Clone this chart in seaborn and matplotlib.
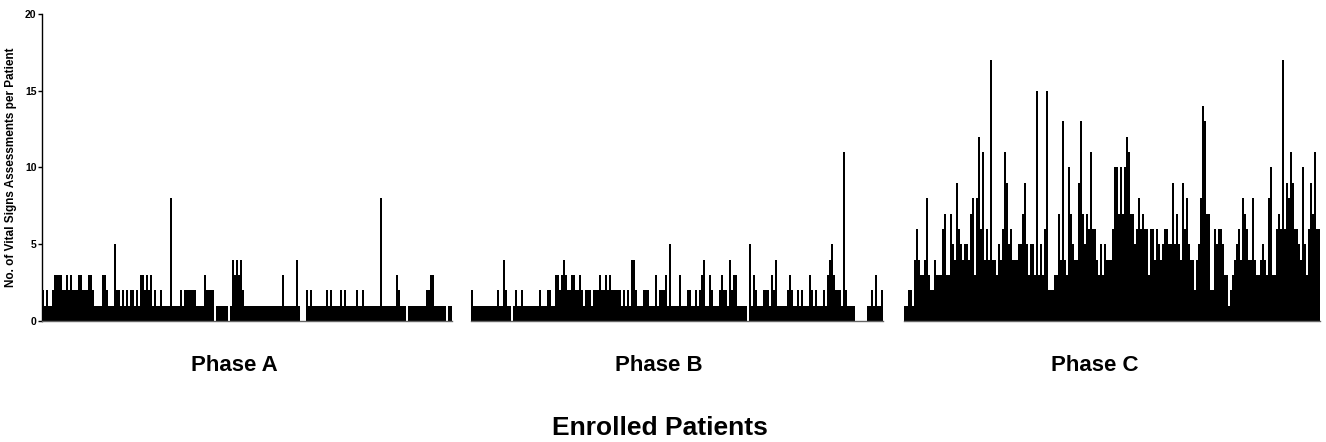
import numpy as np
import pandas as pd
import matplotlib.pyplot as plt
import seaborn as sns

# Vital signs assessments per enrolled patient (one bar per patient)
phase_a = [
    2, 1, 2, 1, 1, 2, 3, 3, 3, 3,
    2, 2, 3, 2, 3, 2, 2, 2, 3, 3,
    2, 2, 2, 3, 3, 2, 1, 1, 1, 1,
    3, 3, 2, 1, 1, 1, 5, 2, 2, 1,
    2, 1, 2, 1, 2, 2, 1, 2, 1, 3,
    3, 2, 3, 2, 3, 1, 2, 1, 1, 2,
    1, 1, 1, 1, 8, 1, 1, 1, 1, 2,
    1, 2, 2, 2, 2, 2, 2, 1, 1, 1,
    1, 3, 2, 2, 2, 2, 0, 1, 1, 1,
    1, 1, 1, 0, 1, 4, 3, 4, 3, 4,
    2, 1, 1, 1, 1, 1, 1, 1, 1, 1,
    1, 1, 1, 1, 1, 1, 1, 1, 1, 1,
    3, 1, 1, 1, 1, 1, 1, 4, 1, 0,
    0, 0, 2, 1, 2, 1, 1, 1, 1, 1,
    1, 1, 2, 1, 2, 1, 1, 1, 1, 2,
    1, 2, 1, 1, 1, 1, 1, 2, 1, 1,
    2, 1, 1, 1, 1, 1, 1, 1, 1, 8,
    1, 1, 1, 1, 1, 1, 1, 3, 2, 1,
    1, 1, 0, 1, 1, 1, 1, 1, 1, 1,
    1, 1, 2, 2, 3, 3, 1, 1, 1, 1,
    1, 1, 0, 1, 1,
]

phase_b = [
    2, 1, 1, 1, 1, 1, 1, 1, 1, 1,
    1, 1, 1, 2, 1, 1, 4, 2, 1, 1,
    0, 1, 2, 1, 1, 2, 1, 1, 1, 1,
    1, 1, 1, 1, 2, 1, 1, 1, 2, 2,
    1, 1, 3, 3, 2, 3, 4, 3, 2, 2,
    3, 3, 2, 2, 3, 2, 1, 2, 2, 2,
    1, 2, 2, 2, 3, 2, 2, 3, 2, 3,
    2, 2, 2, 2, 2, 1, 2, 1, 2, 1,
    4, 4, 2, 1, 1, 1, 2, 2, 2, 1,
    1, 1, 3, 1, 2, 2, 2, 3, 1, 5,
    1, 1, 1, 1, 3, 1, 1, 1, 2, 2,
    1, 1, 2, 1, 2, 3, 4, 1, 1, 3,
    2, 1, 1, 1, 2, 3, 2, 2, 1, 4,
    2, 3, 3, 1, 1, 1, 1, 1, 0, 5,
    1, 3, 2, 1, 1, 1, 2, 2, 2, 1,
    3, 2, 4, 1, 1, 1, 1, 1, 2, 3,
    2, 1, 1, 2, 1, 2, 1, 1, 1, 3,
    2, 1, 2, 1, 1, 1, 2, 1, 3, 4,
    5, 3, 2, 2, 2, 1, 11, 2, 1, 1,
    1, 1, 0, 0, 0, 0, 0, 0, 1, 1,
    2, 1, 3, 1, 1, 2,
]

phase_c = [
    1, 1, 2, 2, 1, 4, 6, 4, 3, 3,
    4, 8, 3, 2, 2, 4, 3, 3, 3, 6,
    7, 3, 3, 7, 5, 4, 9, 6, 5, 4,
    5, 5, 4, 7, 8, 3, 8, 12, 6, 11,
    4, 6, 4, 17, 4, 4, 3, 5, 4, 6,
    11, 9, 5, 6, 4, 4, 4, 5, 5, 7,
    9, 5, 3, 5, 5, 3, 15, 3, 5, 3,
    6, 15, 2, 2, 2, 3, 3, 7, 4, 13,
    4, 3, 10, 7, 5, 4, 4, 9, 13, 7,
    5, 7, 6, 11, 6, 6, 4, 3, 5, 3,
    5, 4, 4, 4, 6, 10, 10, 7, 10, 7,
    10, 12, 11, 7, 7, 5, 6, 8, 6, 7,
    6, 6, 3, 6, 6, 4, 6, 5, 4, 5,
    6, 6, 5, 5, 9, 5, 7, 5, 4, 9,
    6, 8, 5, 4, 4, 2, 4, 5, 8, 14,
    13, 7, 7, 2, 2, 6, 5, 6, 6, 5,
    3, 3, 1, 2, 3, 4, 5, 6, 4, 8,
    7, 6, 4, 4, 8, 4, 3, 3, 4, 5,
    4, 3, 8, 10, 3, 3, 6, 7, 6, 17,
    6, 9, 8, 11, 9, 6, 6, 5, 4, 10,
    5, 3, 6, 9, 7, 11, 6, 6,
]

phase_names = ['Phase A', 'Phase B', 'Phase C']
y_ticks = [0, 5, 10, 15, 20]

sns.set_style('ticks')
plt.rcParams['font.family'] = ['Liberation Sans', 'DejaVu Sans']
plt.rcParams['text.color'] = 'black'
plt.rcParams['axes.labelcolor'] = 'black'
plt.rcParams['ytick.color'] = 'black'

fig = plt.figure(figsize=(13.26, 4.42), dpi=100)

panel_boxes = [
    [0.0317, 0.2738, 0.3092, 0.6946],
    [0.3552, 0.2738, 0.3107, 0.6946],
    [0.6817, 0.2738, 0.3137, 0.6946],
]
label_x = [0.1765, 0.4970, 0.8258]

for i, (vals, name) in enumerate(zip([phase_a, phase_b, phase_c], phase_names)):
    ax = fig.add_axes(panel_boxes[i])
    df = pd.DataFrame({'patient': np.arange(len(vals)), 'count': vals})
    sns.barplot(data=df, x='patient', y='count', color='black', saturation=1,
                width=0.9, linewidth=0, ax=ax)
    ax.set_xlim(-0.5, len(vals) - 0.5)
    ax.set_ylim(0, 20)
    ax.set_xticks([])
    ax.set_xlabel('')
    ax.set_ylabel('')
    for s in ['top', 'right']:
        ax.spines[s].set_visible(False)
    ax.spines['bottom'].set_color('#666666')
    ax.spines['bottom'].set_linewidth(1.0)
    if i == 0:
        ax.spines['left'].set_color('black')
        ax.spines['left'].set_linewidth(1.0)
        ax.set_yticks(y_ticks)
        ax.set_yticklabels([str(t) for t in y_ticks], fontsize=7.5, fontweight='bold')
        ax.tick_params(axis='y', length=3, width=1, pad=1, colors='black')
        ax.set_ylabel('No. of Vital Signs Assessments per Patient',
                      fontsize=8.5, fontweight='bold', labelpad=6, color='black')
    else:
        ax.spines['left'].set_visible(False)
        ax.set_yticks([])
    fig.text(label_x[i], 0.172, name, ha='center', va='center',
             fontsize=16, fontweight='bold', color='black')

fig.text(0.4977, 0.032, 'Enrolled Patients', ha='center', va='center',
         fontsize=19, fontweight='bold', color='black')

fig.savefig('out.png', dpi=100)
